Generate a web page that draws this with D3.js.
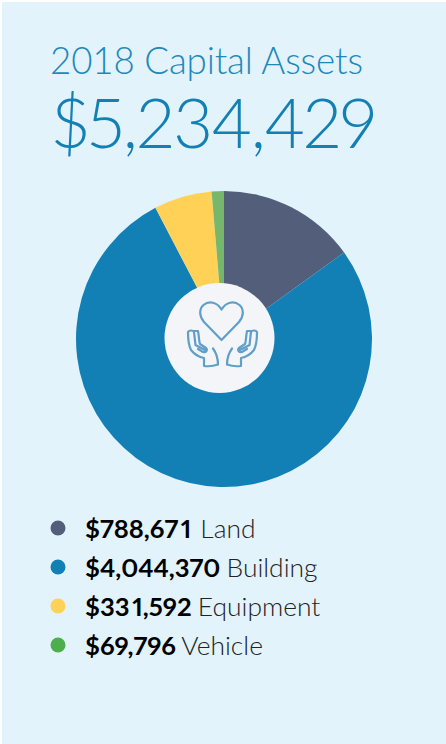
<!DOCTYPE html>
<html><head><meta charset="utf-8">
<script src="https://cdnjs.cloudflare.com/ajax/libs/d3/7.8.5/d3.min.js"></script>
<style>html,body{margin:0;padding:0;background:#fff}svg{display:block}text{font-family:Lato,sans-serif}</style>
</head><body><div id="chart"></div>
<script>
const categories=["Land","Building","Equipment","Vehicle"];
const values=[788671,4044370,331592,69796];
const colors=["#535f7a","#1380b5","#ffd257","#4cae4c"];
const sliceColors=["#535f7a","#1380b5","#ffd257","#76b76b"];
const titleText="2018 Capital Assets";
const totalText="$5,234,429";
const W=446,H=744;
const svg=d3.select("#chart").append("svg").attr("width",W).attr("height",H);
svg.append("rect").attr("x",2).attr("y",2).attr("width",W-2).attr("height",H-2).attr("fill","#e3f3fb");
svg.append("text").attr("x",50).attr("y",74).attr("font-size",36.7).attr("letter-spacing",-0.15).attr("font-weight",300).attr("fill","#1f88bb").text(titleText);
svg.append("text").attr("x",52).attr("y",148).attr("font-size",69).attr("letter-spacing",-1.6).attr("font-weight",300).attr("fill","#1380b5").style("font-variant-numeric","proportional-nums").text(totalText);
const pie=d3.pie().sort(null)(values);
const arc=d3.arc().innerRadius(0).outerRadius(148);
svg.append("g").attr("transform","translate(224,339)").selectAll("path").data(pie).join("path").attr("d",arc).attr("fill",(d,i)=>sliceColors[i]);
svg.append("circle").attr("cx",219.5).attr("cy",338).attr("r",55).attr("fill","#f4f5f8");
const icon=svg.append("g").attr("fill","none").attr("stroke","#5f9fca").attr("stroke-width",2.2).attr("stroke-linejoin","round").attr("stroke-linecap","round");
icon.append("path").attr("d","M221.5,340 L204,322 C199,316 199,309 203.5,305 C209,300.5 217,302 221.5,309.5 C226,302 234,300.5 239.5,305 C244,309 244,316 239,322 Z");
const hand="M204,366 L204,358 C198,357 195,355 191,350 C189,346 188,338 188,332 C189,330 193,330 194,332 L195.5,345 L205,350 M193,331 L198,331 C199,336 199,342 200,344 L206,348 C208,350 206,353 203,352 L198,349 M204,366 C208,366.5 214,366 218,364.5 C218,358 217,354 213,348.5";
icon.append("path").attr("d",hand);
icon.append("path").attr("d",hand).attr("transform","translate(445,0) scale(-1,1)");
const fmt=d3.format("$,");
const ly=d3.scalePoint().domain(categories).range([529,646]);
const rows=svg.append("g").selectAll("g").data(categories).join("g").attr("transform",d=>`translate(0,${ly(d)})`);
rows.append("circle").attr("cx",58).attr("cy",-1).attr("r",7.5).attr("fill",(d,i)=>colors[i]);
const t=rows.append("text").attr("x",85).attr("y",9).style("font-variant-numeric","proportional-nums");
// the reference's bold "1" sits wider than the installed Lato's proportional one
t.each(function(d,i){
  const el=d3.select(this);
  fmt(values[i]).split(/(1)/).filter(s=>s).forEach(s=>{
    el.append("tspan").attr("font-size",25.6).attr("font-weight",700).attr("fill","#000")
      .attr("dx",s==="1"?2.7:0).text(s);
  });
  const last=el.selectAll("tspan").nodes().pop();
  el.append("tspan").attr("font-size",26.4).attr("dx",(last.textContent==="1"?2.7:0)-1).attr("font-weight",300).attr("fill","#222").text(" "+d);
});
</script></body></html>
